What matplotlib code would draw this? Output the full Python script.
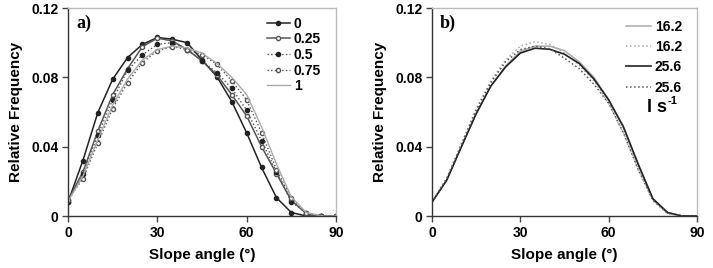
import matplotlib
matplotlib.use("Agg")
import matplotlib.pyplot as plt
from matplotlib.ticker import FixedLocator

plt.rcParams['font.family'] = ['Liberation Sans', 'DejaVu Sans']
plt.rcParams['font.weight'] = 'bold'

angles = [0, 5, 10, 15, 20, 25, 30, 35, 40, 45, 50, 55, 60, 65, 70, 75, 80, 85, 90]

# Panel a
a_labels = ["0", "0.25", "0.5", "0.75", "1"]
a_s0 = [0.008, 0.032, 0.0596, 0.0789, 0.0914, 0.099, 0.103, 0.102, 0.100, 0.090, 0.0804, 0.066, 0.048, 0.028, 0.0106, 0.002, 0.0, 0.0, 0.0]
a_s025 = [0.009, 0.0254, 0.049, 0.070, 0.085, 0.0977, 0.1026, 0.101, 0.096, 0.0895, 0.0814, 0.070, 0.0577, 0.040, 0.0245, 0.009, 0.0014, 0.0, 0.0]
a_s05 = [0.008, 0.0245, 0.0467, 0.067, 0.084, 0.093, 0.099, 0.100, 0.096, 0.0895, 0.0827, 0.0737, 0.061, 0.0434, 0.0254, 0.008, 0.002, 0.0, 0.0]
a_s075 = [0.0095, 0.0216, 0.042, 0.062, 0.077, 0.0885, 0.0954, 0.0977, 0.096, 0.093, 0.0875, 0.078, 0.067, 0.048, 0.0268, 0.0104, 0.002, 0.0, 0.0]
a_s1 = [0.0085, 0.023, 0.044, 0.064, 0.079, 0.090, 0.096, 0.098, 0.097, 0.094, 0.088, 0.080, 0.070, 0.0515, 0.030, 0.011, 0.002, 0.0, 0.0]

# Panel b
b_labels = ["16.2", "16.2", "25.6", "25.6"]
b_unit = "l s"
b_unit_exp = "-1"
b_16_solid = [0.008, 0.021, 0.040, 0.059, 0.075, 0.0865, 0.095, 0.098, 0.098, 0.0954, 0.089, 0.080, 0.067, 0.051, 0.030, 0.010, 0.002, 0.0, 0.0]
b_16_dot = [0.008, 0.022, 0.042, 0.062, 0.078, 0.090, 0.098, 0.1006, 0.099, 0.094, 0.087, 0.078, 0.065, 0.048, 0.027, 0.009, 0.0015, 0.0, 0.0]
b_25_solid = [0.008, 0.0206, 0.040, 0.059, 0.075, 0.086, 0.094, 0.0968, 0.0962, 0.0933, 0.088, 0.079, 0.067, 0.0515, 0.030, 0.010, 0.002, 0.0, 0.0]
b_25_dot = [0.008, 0.0215, 0.041, 0.061, 0.077, 0.089, 0.096, 0.098, 0.0965, 0.091, 0.085, 0.076, 0.065, 0.048, 0.027, 0.009, 0.0015, 0.0, 0.0]

xticks = [0, 30, 60, 90]
yticks = [0, 0.04, 0.08, 0.12]
yticklabels = ["0", "0.04", "0.08", "0.12"]

fig = plt.figure(figsize=(7.13, 2.68), dpi=100)
W, H = 713, 268
ax1 = fig.add_axes([68 / W, 1 - 216 / H, (336 - 68) / W, (216 - 8) / H])
ax2 = fig.add_axes([432 / W, 1 - 216 / H, (697 - 432) / W, (216 - 8) / H])

dark = '#222222'
mid = '#555555'
light = '#aaaaaa'
ms = 3.0

ax1.plot(angles, a_s0, '-', color=dark, lw=1.1, marker='o', ms=ms, mfc=dark, mec=dark, label=a_labels[0])
ax1.plot(angles, a_s025, '-', color=mid, lw=1.1, marker='o', ms=ms, mfc='white', mec=mid, label=a_labels[1])
ax1.plot(angles, a_s05, ':', color=mid, lw=1.0, marker='o', ms=ms, mfc=dark, mec=dark, label=a_labels[2])
ax1.plot(angles, a_s075, ':', color=mid, lw=1.0, marker='o', ms=ms, mfc='white', mec=mid, label=a_labels[3])
ax1.plot(angles, a_s1, '-', color=light, lw=1.0, label=a_labels[4])

ax2.plot(angles, b_16_solid, '-', color=light, lw=1.1, label=b_labels[0])
ax2.plot(angles, b_16_dot, ':', color=light, lw=1.1, label=b_labels[1])
ax2.plot(angles, b_25_solid, '-', color=dark, lw=1.2, label=b_labels[2])
ax2.plot(angles, b_25_dot, ':', color=mid, lw=1.1, label=b_labels[3])

for ax, tag in ((ax1, 'a)'), (ax2, 'b)')):
    ax.set_xlim(0, 90)
    ax.set_ylim(0, 0.12)
    ax.xaxis.set_major_locator(FixedLocator(xticks))
    ax.set_yticks(yticks)
    ax.set_yticklabels(yticklabels)
    ax.tick_params(direction='out', length=4, width=1, color='#444444', labelsize=10, pad=3)
    for lab in ax.get_xticklabels() + ax.get_yticklabels():
        lab.set_fontweight('bold')
    for side in ('top', 'right'):
        ax.spines[side].set_color('#bbbbbb')
        ax.spines[side].set_linewidth(1.0)
    for side in ('left', 'bottom'):
        ax.spines[side].set_color('#333333')
        ax.spines[side].set_linewidth(1.0)
    ax.set_xlabel('Slope angle (°)', fontsize=11, fontweight='bold', labelpad=6)
    ax.set_ylabel('Relative Frequency', fontsize=11, fontweight='bold', labelpad=6)
    ax.text(0.03, 0.97, tag, transform=ax.transAxes, ha='left', va='top',
            fontsize=13, fontweight='bold', family=['Liberation Serif', 'DejaVu Serif'])

leg1 = ax1.legend(loc='upper right', frameon=False, fontsize=10, handlelength=1.6,
                  handletextpad=0.3, labelspacing=0.12, borderaxespad=0.3,
                  bbox_to_anchor=(0.98, 1.005))
for t in leg1.get_texts():
    t.set_fontweight('bold')

leg2 = ax2.legend(loc='upper right', frameon=False, fontsize=10, handlelength=1.8,
                  handletextpad=0.3, labelspacing=0.45, borderaxespad=0.3,
                  bbox_to_anchor=(0.98, 0.99))
for t in leg2.get_texts():
    t.set_fontweight('bold')
ax2.text(0.885, 0.52, b_unit, transform=ax2.transAxes, ha='right', va='center',
         fontsize=13, fontweight='bold')
ax2.text(0.888, 0.555, b_unit_exp, transform=ax2.transAxes, ha='left', va='center',
         fontsize=8, fontweight='bold')

fig.savefig('out.png', dpi=100)
